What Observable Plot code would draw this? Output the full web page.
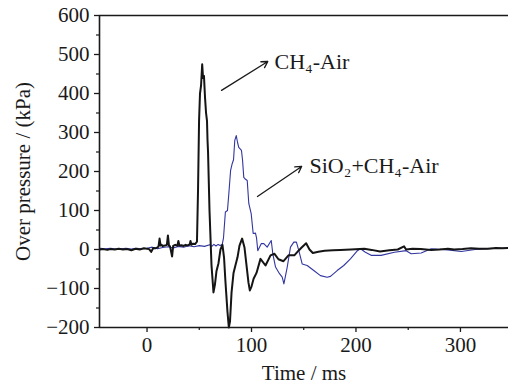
<!DOCTYPE html>
<html><head><meta charset="utf-8">
<script src="https://cdn.jsdelivr.net/npm/d3@7"></script>
<script src="https://cdn.jsdelivr.net/npm/@observablehq/plot@0.6"></script>
<style>body{margin:0;background:#fff}</style>
</head><body><div id="c"></div>
<script>
// CH4-Air (black)
const blackT = [-45,-42,-38,-35,-31,-27,-23,-19,-15,-11,-7,-3,0,2,4,6,8,10,11,12,13,14,15,17,19,20,21,22,24,25,27,29,30,31,33,35,37,39,41,41.6,42.5,44,46,47.8,48.8,49.8,50.7,51.7,52.8,53.6,54.5,55.5,56.5,57.4,57.9,58.4,59.8,61.7,63.6,65,66.5,68.4,70.3,72.2,73.7,75,77,78.3,79.4,80.9,82.8,84.7,86.6,88.5,91,93.3,95.2,97.1,98.4,100,102,104.8,108.6,113.4,118.2,122,125.8,130.6,135.4,141,145,148,152.3,155.5,158.7,164,170,178,185,195,208,215,223,232,240,246,248,254,262,272,280,288,294,302,310,318,326,334,340,346];
const blackP = [0,1,-1,1,0,2,0,1,-2,2,0,3,2,1,-6,4,3,5,8,28,10,12,9,10,12,36,10,8,-18,9,12,10,22,10,11,9,12,10,14,22,12,15,14,20,150,330,400,420,475,440,445,390,350,330,280,250,100,-40,-110,-90,-55,-35,0,12,-20,-80,-160,-200,-185,-110,-60,-40,-20,10,28,5,-40,-85,-105,-95,-75,-60,-24,-41,-15,-11,-25,-30,-15,-15,-3,5,16,0,-9,-6,-3,-2,-1,0,2,-1,-5,-2,0,8,0,2,1,-1,0,2,0,1,3,2,2,4,3,4];
// SiO2+CH4-Air (blue)
const blueT = [-45,-40,-35,-30,-25,-20,-15,-10,-5,0,5,10,15,20,25,30,35,40,45,50,55,60,62,64,66,68,70,72,73.2,75,77,78.5,80,81.5,82.8,84,85.4,86.6,87.8,90.4,91.4,92.6,94.3,95.9,97.4,99.7,101.6,103.8,104.8,106,109.3,111.8,115,118.9,120.4,123,126.8,129.4,131,134.2,137.3,140.5,143,145.3,148.5,153.3,159.6,166,172.4,175.6,182,188.3,194.7,201,204.3,209,214.5,224,236.8,248,252.8,262.4,272,287.8,300.7,314,326,345];
const blueP = [3,2,3,1,2,3,1,3,2,3,6,2,5,7,4,8,6,10,7,10,8,12,8,13,9,13,10,13,30,96,100,150,203,220,230,280,292,275,262,254,230,185,180,177,118,92,41,42,30,-3,15,15,6,23,-11,-45,-62,-71,-88,-45,6,19,19,-3,-37,-41,-54,-67,-71,-69,-54,-41,-24,-4,2,-7,-15,-15,-7,-3,-11,-9,2,-1,-5,0,2,4];
// axis ticks
const xTicks = [0,100,200,300];
const xMinor = [50,150,250];
const yTicks = [-200,-100,0,100,200,300,400,500,600];
const yMinor = [-150,-50,50,150,250,350,450,550];
// annotations
const arrowsX1 = [71.3,105.7], arrowsY1 = [408,136];
const arrowsX2 = [115.6,148], arrowsY2 = [482,213];
const labelX = [122,155.5], labelY = [482,215];
const labelText = ["CH\u2084-Air","SiO\u2082+CH\u2084-Air"];

const black = blackT.map((t,i)=>({t,p:blackP[i]}));
const blue = blueT.map((t,i)=>({t,p:blueP[i]}));
const arrows = arrowsX1.map((x,i)=>({x1:x,y1:arrowsY1[i],x2:arrowsX2[i],y2:arrowsY2[i]}));
const labels = labelX.map((x,i)=>({x,y:labelY[i],text:labelText[i]}));

const chart = Plot.plot({
  width:508, height:385, marginLeft:99, marginRight:0, marginTop:15, marginBottom:58,
  style:{fontFamily:"'Liberation Serif', serif", fontSize:"21px", background:"#fff", color:"#1a1a1a"},
  x:{domain:[-45.5,346]},
  y:{domain:[-200,600]},
  marks:[
    Plot.line(blue,{x:"t",y:"p",stroke:"#3236a0",strokeWidth:1.1}),
    Plot.line(black,{x:"t",y:"p",stroke:"#151515",strokeWidth:2}),
    Plot.ruleX([-45.5],{strokeWidth:1.6}),
    Plot.ruleY([-200,600],{strokeWidth:1.6}),
    Plot.axisX({ticks:xTicks, tickSize:5, tickPadding:5, label:"Time / ms", labelAnchor:"center", labelArrow:"none", labelOffset:52, fontSize:21, strokeWidth:1.3}),
    Plot.axisX({ticks:xMinor, tickSize:3, tickFormat:()=>"", label:null, strokeWidth:1.2}),
    Plot.axisY({ticks:yTicks, tickSize:5, tickPadding:5, label:"Over pressure / (kPa)", labelAnchor:"center", labelArrow:"none", labelOffset:84, fontSize:21, strokeWidth:1.3}),
    Plot.axisY({ticks:yMinor, tickSize:3, tickFormat:()=>"", label:null, strokeWidth:1.2}),
    Plot.arrow(arrows,{x1:"x1",y1:"y1",x2:"x2",y2:"y2",stroke:"#1a1a1a",strokeWidth:1.3,headLength:8}),
    Plot.text(labels,{x:"x",y:"y",text:"text",textAnchor:"start",fontSize:22,fill:"#1a1a1a"})
  ]
});
document.getElementById("c").appendChild(chart);
</script></body></html>
